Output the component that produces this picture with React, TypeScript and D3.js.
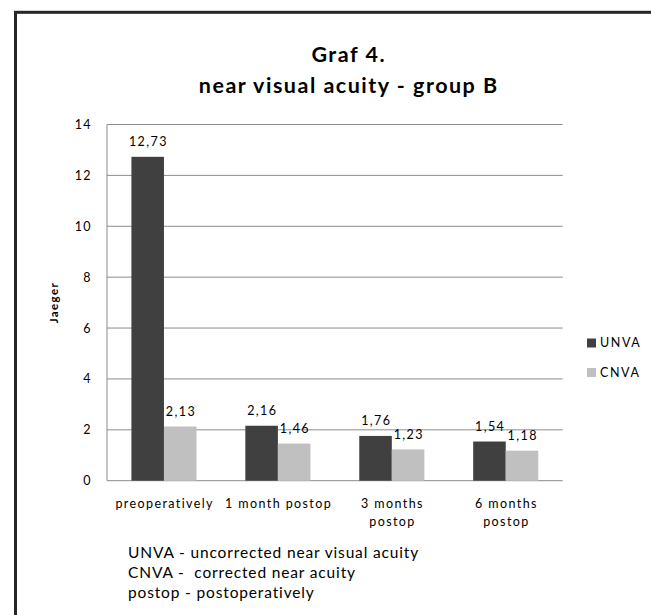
import React from "react";
import * as d3 from "d3";

const categories = [["preoperatively"], ["1 month postop"], ["3 months", "postop"], ["6 months", "postop"]];
const seriesNames = ["UNVA", "CNVA"];
const unva = [12.73, 2.16, 1.76, 1.54];
const cnva = [2.13, 1.46, 1.23, 1.18];
const labelsUnva = ["12,73", "2,16", "1,76", "1,54"];
const labelsCnva = ["2,13", "1,46", "1,23", "1,18"];
const yTicks = [0, 2, 4, 6, 8, 10, 12, 14];
const titleLines = ["Graf 4.", "near visual acuity - group B"];
const footnotes = ["UNVA - uncorrected near visual acuity", "CNVA -  corrected near acuity", "postop - postoperatively"];
const colors = ["#404040", "#c0c0c0"];

const FONT = "Lato, 'Open Sans', sans-serif";
const LS = 1.4;

export default function App() {
  const W = 651, H = 615;
  const left = 107, right = 562.7, top = 124.5, bottom = 480.7;
  const x = d3.scaleBand<number>().domain(d3.range(categories.length)).range([left, right]).padding(0);
  const bw = x.bandwidth();
  const inner = d3.scaleBand<number>().domain([0, 1]).range([0, bw]).paddingInner(0).paddingOuter(0.75);
  const y = d3.scaleLinear().domain([0, 14]).range([bottom, top]);
  const series = [unva, cnva];
  const labels = [labelsUnva, labelsCnva];

  return (
    <svg width={W} height={H} style={{ position: "absolute", left: 0, top: 0, background: "#fff" }} fontFamily={FONT}>
      <rect x={0} y={0} width={W} height={H} fill="#fff" />
      <rect x={15.5} y={12.3} width={W + 20} height={H + 20} fill="none" stroke="#262626" strokeWidth={3} />
      {titleLines.map((t, i) => (
        <text key={i} x={348} dx={0.75} y={61.7 + i * 31.6} textAnchor="middle" fontWeight="bold" fontSize={21.5} letterSpacing={1.5} fill="#000">{t}</text>
      ))}
      {yTicks.map((t) => (
        <g key={t}>
          <line x1={left} x2={right} y1={y(t)} y2={y(t)} stroke="#8c8c8c" strokeWidth={1} />
          <text x={92} y={y(t) + 4.5} textAnchor="end" fontSize={12.5} letterSpacing={LS} fill="#000">{t}</text>
        </g>
      ))}
      <line x1={left} x2={left} y1={top} y2={bottom} stroke="#8c8c8c" strokeWidth={1} />
      <text transform={`translate(57.5,${(top + bottom) / 2}) rotate(-90)`} textAnchor="middle" fontWeight="bold" fontSize={11.5} letterSpacing={LS} fill="#000">Jaeger</text>
      {series.map((s, si) =>
        s.map((v, ci) => {
          const bx = (x(ci) as number) + (inner(si) as number);
          const w = inner.bandwidth();
          return (
            <g key={`${si}-${ci}`}>
              <rect x={bx} y={y(v)} width={w} height={y(0) - y(v)} fill={colors[si]} />
              <text x={bx + w / 2} dx={LS / 2} y={y(v) - 10.5} textAnchor="middle" fontSize={12.5} letterSpacing={LS} fill="#000">{labels[si][ci]}</text>
            </g>
          );
        })
      )}
      {categories.map((c, ci) =>
        c.map((line, li) => (
          <text key={`${ci}-${li}`} x={(x(ci) as number) + bw / 2} dx={LS / 2} y={508 + li * 18} textAnchor="middle" fontSize={12.5} letterSpacing={LS} fill="#000">{line}</text>
        ))
      )}
      {seriesNames.map((n, i) => (
        <g key={n}>
          <rect x={587} y={338.5 + i * 29.5} width={9} height={9} fill={colors[i]} />
          <text x={600} y={347.3 + i * 29.5} fontSize={12.5} letterSpacing={1.6} fill="#000">{n}</text>
        </g>
      ))}
      {footnotes.map((f, i) => (
        <text key={i} x={128} y={558 + i * 20} fontSize={15.5} letterSpacing={0.85} fill="#000" style={{ whiteSpace: "pre" }}>{f}</text>
      ))}
    </svg>
  );
}
